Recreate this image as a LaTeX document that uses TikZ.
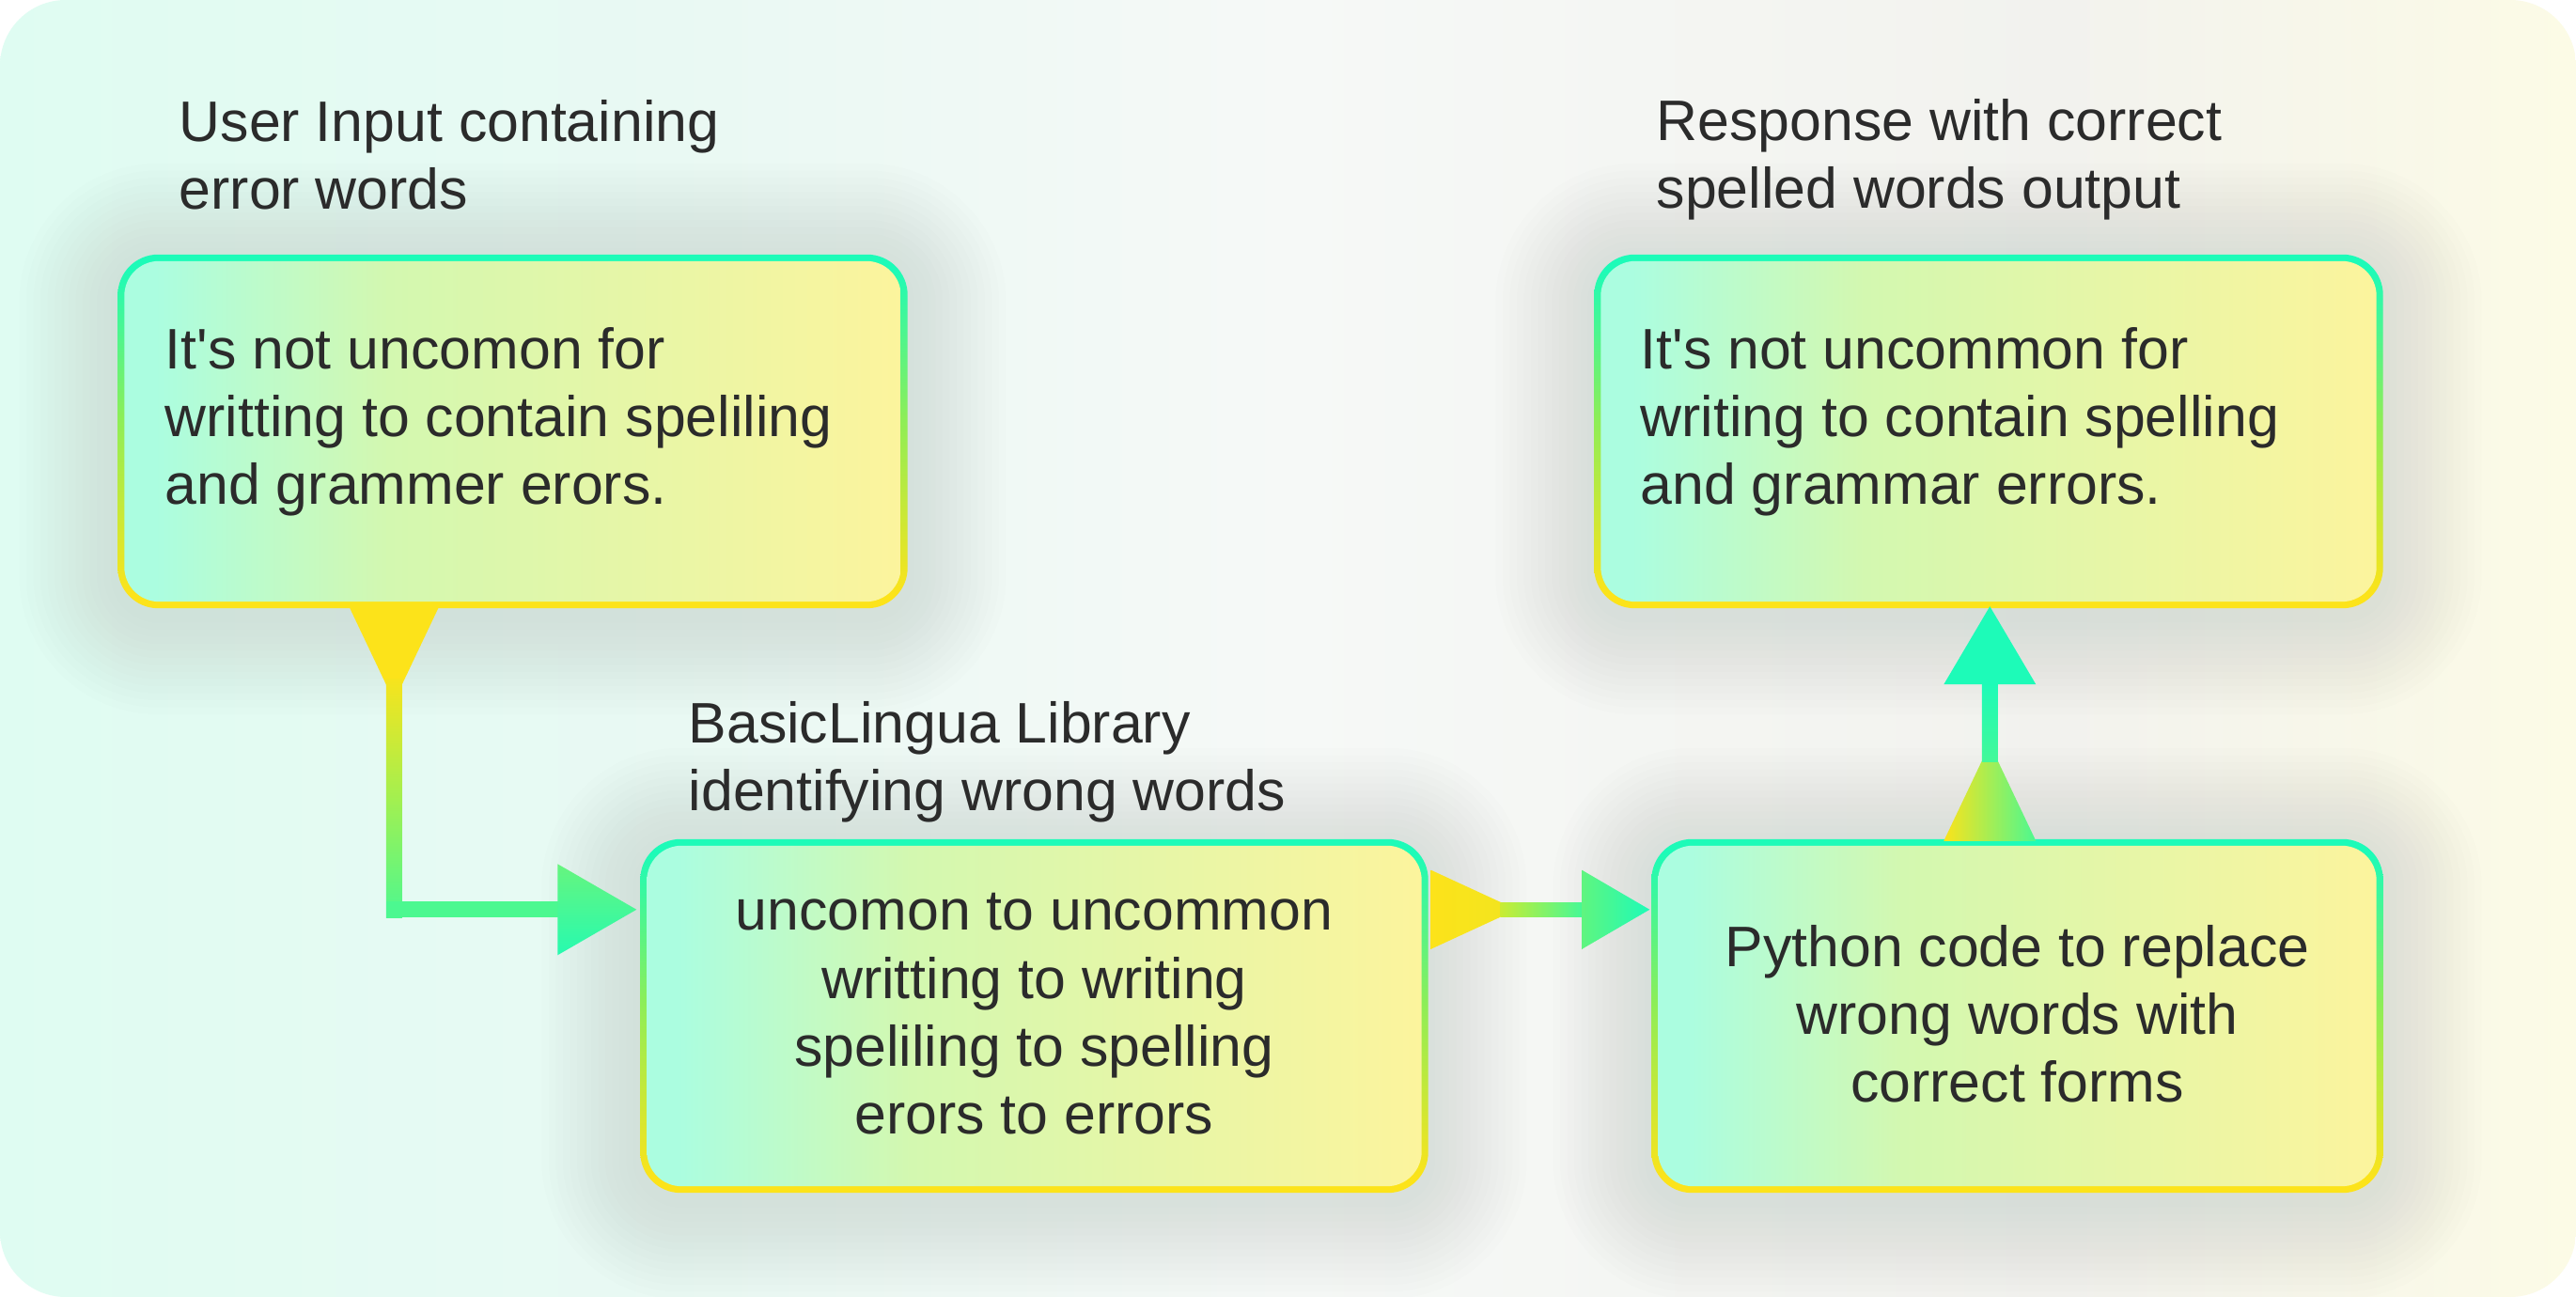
\documentclass[tikz,border=0pt]{standalone}
\usepackage{fontspec}
\setmainfont{Liberation Sans}
\usetikzlibrary{calc}

\definecolor{txt}{HTML}{2B2B2B}
\definecolor{gcyan}{HTML}{1DFBB8}
\definecolor{gyel}{HTML}{FCE31A}
\definecolor{gmid}{HTML}{8CEE58}
\definecolor{fL}{HTML}{ABFDE0}
\definecolor{fM}{HTML}{D3F8B0}
\definecolor{fR}{HTML}{FCF49D}
\definecolor{bgA}{HTML}{DFFCF2}
\definecolor{bgB}{HTML}{E9F9F3}
\definecolor{bgC}{HTML}{F6F9F7}
\definecolor{bgD}{HTML}{F2F2EE}
\definecolor{bgE}{HTML}{FCFBE6}
\definecolor{agreen}{HTML}{4CF890}
\definecolor{ayg}{HTML}{C8EC34}
\definecolor{shcol}{HTML}{5A6660}

\pgfdeclarehorizontalshading{bgshade}{100bp}{color(0bp)=(bgA); color(25bp)=(bgA); color(38bp)=(bgB); color(50bp)=(bgC); color(65bp)=(bgD); color(75bp)=(bgE); color(100bp)=(bgE)}
\pgfdeclarehorizontalshading{fillshade}{100bp}{color(0bp)=(fL); color(27bp)=(fL); color(42bp)=(fM); color(75bp)=(fR); color(100bp)=(fR)}
\pgfdeclareverticalshading{bordershade}{100bp}{color(0bp)=(gyel); color(27bp)=(gyel); color(52bp)=(gmid); color(73bp)=(gcyan); color(100bp)=(gcyan)}

\newcommand\bxfont{\fontsize{17.3pt}{20.6pt}\selectfont}

\tikzset{
  boxborder/.style={shade, shading=bordershade, rounded corners=0.43cm,
    minimum height=3.75cm, inner sep=0pt},
  boxfill/.style={shade, shading=fillshade, rounded corners=0.37cm},
  softshadow/.style={fill=shcol, fill opacity=0.007},
  lbl/.style={font=\bxfont, text=txt, inner sep=0pt, align=left, anchor=base west},
  ctr/.style={font=\bxfont, text=txt, inner sep=0pt, align=center, anchor=base},
}

\begin{document}
\begin{tikzpicture}
\useasboundingbox (0,0) rectangle (27.41,13.80);
\fill[white] (0,0) rectangle (27.41,13.80);
\path[shade, shading=bgshade, rounded corners=0.7cm] (0,0) rectangle (27.41,13.80);

% boxes
\node[boxborder, minimum width=8.39cm] (b1) at (5.455,9.21) {};
\node[boxborder, minimum width=8.37cm] (b2) at (11.005,2.99) {};
\node[boxborder, minimum width=7.77cm] (b3) at (21.465,2.99) {};
\node[boxborder, minimum width=8.38cm] (b4) at (21.16,9.21) {};

% soft shadows (drawn behind via layering order: redraw boxes after)
\begin{scope}
\foreach \b in {b1,b2,b3,b4}{
  \foreach \i in {1,...,14}{
    \path[softshadow, rounded corners={0.43cm+\i*0.075cm}]
      ($(\b.south west)+(-\i*0.075,-\i*0.075-0.08)$) rectangle ($(\b.north east)+(\i*0.075,\i*0.075-0.08)$);
  }
}
\end{scope}
\foreach \b in {b1,b2,b3,b4}{
  \path[shade, shading=bordershade, rounded corners=0.43cm] (\b.south west) rectangle (\b.north east);
  \path[boxfill] ($(\b.south west)+(0.07,0.07)$) rectangle ($(\b.north east)+(-0.07,-0.07)$);
}

% labels
\node[lbl] (l1) at (1.90,11.57) {User Input containing\\error words};
\node[lbl] (l2) at (7.32,5.17) {BasicLingua Library\\identifying wrong words};
\node[lbl] (l4) at (17.62,11.58) {Response with correct\\spelled words output};

% box texts
\node[lbl] (t1) at (1.75,8.43) {It\textquotesingle s not uncomon for\\writting to contain speliling\\and grammer erors.};
\node[ctr] (t2) at (11.005,1.73) {uncomon to uncommon\\writting to writing\\speliling to spelling\\erors to errors};
\node[ctr] (t3) at (21.465,2.07) {Python code to replace\\wrong words with\\correct forms};
\node[lbl] (t4) at (17.45,8.43) {It\textquotesingle s not uncommon for\\writing to contain spelling\\and grammar errors.};

% connector 1: b1 -> b2
\coordinate (a1s) at ($(b1.south west)+(2.94,0)$);
\coordinate (a1e) at ($(b2.north west)+(-0.04,-0.75)$);
\coordinate (a1c) at (a1s |- a1e);
\fill[gyel] ($(a1s)+(-0.47,0)$) -- ($(a1s)+(0.47,0)$) -- ($(a1s)+(0,-0.99)$) -- cycle;
\path[shade, top color=gyel!90!ayg, bottom color=agreen, middle color=ayg!70!agreen]
  ($(a1s)+(-0.085,-0.75)$) rectangle ($(a1c)+(0.085,-0.085)$);
\fill[agreen] ($(a1c)+(-0.085,0.085)$) rectangle ($(a1e)+(-0.82,-0.085)$);
\path[shade, top color=agreen!85!gyel, bottom color=gcyan!80!agreen]
  ($(a1e)+(-0.84,0.485)$) -- (a1e) -- ($(a1e)+(-0.84,-0.485)$) -- cycle;

% connector 2: b2 -> b3
\coordinate (a2s) at ($(b2.north east)+(0.03,-0.75)$);
\coordinate (a2e) at ($(b3.north west)+(-0.02,-0.75)$);
\path[shade, left color=gyel, right color=gyel!80!ayg]
  ($(a2s)+(0,0.42)$) -- ($(a2s)+(0.91,0)$) -- ($(a2s)+(0,-0.42)$) -- cycle;
\path[shade, left color=ayg, right color=agreen!80!gcyan]
  ($(a2s)+(0.74,0.075)$) rectangle ($(a2e)+(-0.70,-0.075)$);
\path[shade, left color=agreen!70!gmid, right color=gcyan]
  ($(a2e)+(-0.72,0.42)$) -- (a2e) -- ($(a2e)+(-0.72,-0.42)$) -- cycle;

% connector 3: b3 -> b4
\coordinate (a3s) at ($(b3.north west)+(3.60,-0.02)$);
\coordinate (a3e) at ($(b4.south west)+(4.21,0.02)$);
\path[shade, shading angle=45, left color=gyel, right color=agreen]
  ($(a3s)+(-0.49,0)$) -- ($(a3s)+(0.49,0)$) -- ($(a3s)+(0,1.03)$) -- cycle;
\path[shade, bottom color=agreen!80!gcyan, top color=gcyan]
  ($(a3s)+(-0.085,0.84)$) rectangle ($(a3e)+(0.085,-0.81)$);
\fill[gcyan] ($(a3e)+(-0.49,-0.83)$) -- (a3e) -- ($(a3e)+(0.49,-0.83)$) -- cycle;
\end{tikzpicture}
\end{document}
